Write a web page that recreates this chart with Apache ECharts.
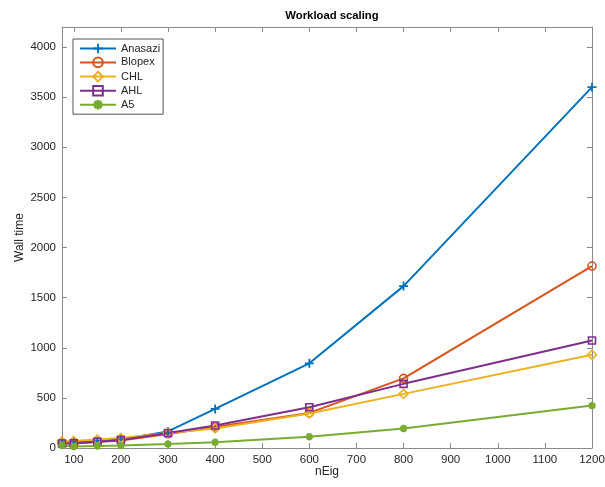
<!DOCTYPE html>
<html>
<head>
<meta charset="utf-8">
<script src="https://cdn.jsdelivr.net/npm/echarts@6/dist/echarts.min.js"></script>
<style>
  html, body { margin: 0; padding: 0; background: #fff; }
  #chart { width: 605px; height: 487px; }
</style>
</head>
<body>
<div id="chart"></div>
<script>
// values
var nEig = [75, 100, 150, 200, 300, 400, 600, 800, 1200];
var anasazi = [55, 60, 70, 85, 165, 390, 845, 1615, 3600];
var blopex = [50, 45, 60, 75, 140, 210, 350, 695, 1815];
var chl = [65, 70, 85, 100, 150, 195, 345, 540, 930];
var ahl = [45, 47, 63, 80, 150, 225, 407, 640, 1073];
var a5 = [25, 15, 20, 25, 40, 57, 113, 195, 423];

var xTicks = [100, 200, 300, 400, 500, 600, 700, 800, 900, 1000, 1100, 1200];
var yTicks = [0, 500, 1000, 1500, 2000, 2500, 3000, 3500, 4000];

var font = 'Liberation Sans, Arial, Helvetica, sans-serif';
var axisGray = '#8a8a8a';
var textGray = '#262626';

var plusPath = 'path://M-2,-10H2V-2H10V2H2V10H-2V2H-10V-2H-2Z';
var starPath = 'path://M-3,-10H3V-3H10V3H3V10H-3V3H-10V-3H-3Z' +
  'M-9.2,-5L-5,-9.2L9.2,5L5,9.2Z' +
  'M5,-9.2L9.2,-5L-5,9.2L-9.2,5Z';

function pairs(ys) {
  return nEig.map(function (x, i) { return [x, ys[i]]; });
}

function line(name, ys, color, symbol, size, hollow) {
  return {
    name: name,
    type: 'line',
    data: pairs(ys),
    symbol: symbol,
    symbolSize: size,
    showAllSymbol: true,
    animation: false,
    lineStyle: { color: color, width: 2 },
    itemStyle: hollow
      ? { color: 'rgba(255,255,255,0)', borderColor: color, borderWidth: 1.6 }
      : { color: color, borderWidth: 0 },
    emphasis: { disabled: true }
  };
}

function frameAxis(pos, min, max, ticks, showLabels) {
  return {
    type: 'value',
    position: pos,
    min: min,
    max: max,
    axisLine: { show: true, onZero: false, lineStyle: { color: axisGray, width: 1 } },
    axisTick: { show: true, inside: true, length: 5, customValues: ticks, lineStyle: { color: axisGray } },
    axisLabel: showLabels
      ? {
          show: true, customValues: ticks, color: textGray, fontFamily: font, fontSize: 11.5, margin: 6,
          formatter: function (v) { return String(v); }
        }
      : { show: false },
    splitLine: { show: false }
  };
}

var chart = echarts.init(document.getElementById('chart'));

var xBottom = frameAxis('bottom', 75, 1200, xTicks, true);
xBottom.name = 'nEig';
xBottom.nameLocation = 'middle';
xBottom.nameGap = 18;
xBottom.nameMoveOverlap = false;
xBottom.nameTextStyle = { color: textGray, fontFamily: font, fontSize: 12 };

var yLeft = frameAxis('left', 0, 4200, yTicks, true);
yLeft.name = 'Wall time';
yLeft.nameLocation = 'middle';
yLeft.nameGap = 36;
yLeft.nameMoveOverlap = false;
yLeft.nameTextStyle = { color: textGray, fontFamily: font, fontSize: 12 };

chart.setOption({
  backgroundColor: '#fff',
  title: {
    text: 'Workload scaling',
    left: 327,
    textAlign: 'center',
    top: 5,
    textStyle: { color: '#000', fontFamily: font, fontSize: 11.3, fontWeight: 'bold' }
  },
  grid: { left: 62, right: 13, top: 27, bottom: 39, containLabel: false, outerBoundsMode: 'none' },
  legend: {
    orient: 'vertical',
    left: 73,
    top: 39,
    padding: [4, 3, 4, 6],
    itemWidth: 36,
    itemHeight: 12,
    itemGap: 2.6,
    backgroundColor: '#fff',
    borderColor: '#262626',
    borderWidth: 0.8,
    borderRadius: 0,
    textStyle: { color: textGray, fontFamily: font, fontSize: 11 },
    data: ['Anasazi', 'Blopex', 'CHL', 'AHL', 'A5']
  },
  xAxis: [xBottom, frameAxis('top', 75, 1200, xTicks, false)],
  yAxis: [yLeft, frameAxis('right', 0, 4200, yTicks, false)],
  series: [
    line('Anasazi', anasazi, '#0072BD', plusPath, 9, false),
    line('Blopex', blopex, '#D95319', 'circle', 8, true),
    line('CHL', chl, '#EDB120', 'diamond', 9, true),
    line('AHL', ahl, '#7E2F8E', 'rect', 7, true),
    line('A5', a5, '#77AC30', starPath, 7.5, false)
  ]
});
</script>
</body>
</html>
